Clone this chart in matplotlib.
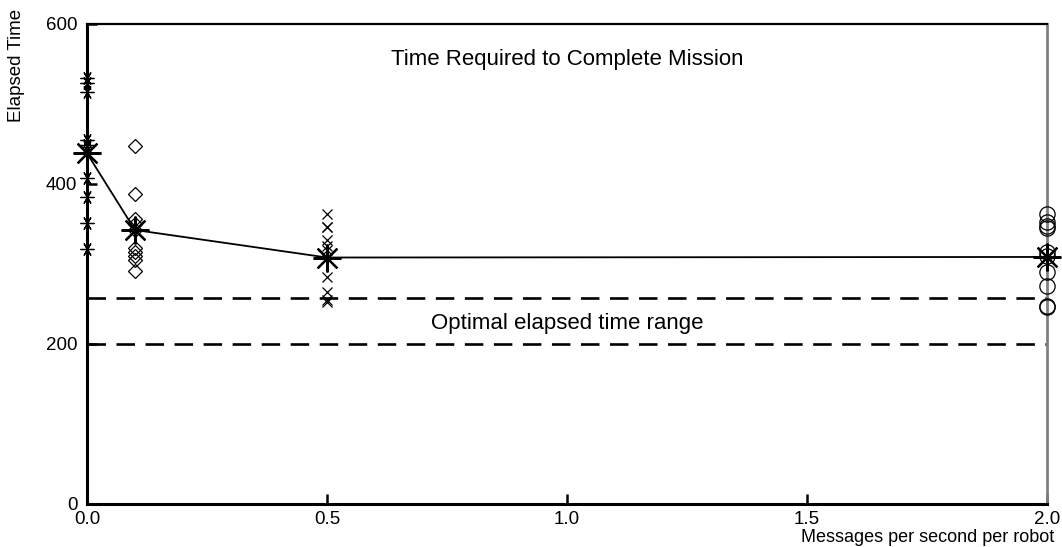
import numpy as np
import matplotlib
matplotlib.use("Agg")
import matplotlib.pyplot as plt

plt.rcParams["font.family"] = ["Liberation Sans", "DejaVu Sans"]

# Message rates tested (messages per second per robot)
rates = [0.0, 0.1, 0.5, 2.0]

# Elapsed times of individual runs at each message rate
times_r0 = [532, 526, 515, 455, 449, 446, 407, 384, 351, 319]
times_r01 = [447, 388, 356, 350, 343, 320, 315, 310, 305, 291]
times_r05 = [362, 346, 346, 330, 322, 318, 284, 265, 255, 253]
times_r2 = [362, 352, 348, 345, 315, 310, 290, 272, 248, 246]

runs = [times_r0, times_r01, times_r05, times_r2]
run_markers = [(6, 2, 90), "D", "x", "o"]
run_sizes = [10, 7, 7, 11]

# Bounds of the optimal elapsed time range
optimal_low = 200
optimal_high = 258

yticks = [0, 200, 400, 600]
xticks = [0.0, 0.5, 1.0, 1.5, 2.0]
xtick_labels = ["0.0", "0.5", "1.0", "1.5", "2.0"]

fig = plt.figure(figsize=(10.62, 5.47), dpi=100)
ax = fig.add_axes([87 / 1062, 43 / 547, 960 / 1062, 480 / 547])

# Individual runs
for x, vals, mk, ms in zip(rates, runs, run_markers, run_sizes):
    ax.plot([x] * len(vals), vals, linestyle="none", marker=mk, ms=ms,
            mfc="none", mec="black", mew=0.9, clip_on=False, zorder=3)

# Mean elapsed time per rate
means = [np.mean(v) for v in runs]
ax.plot(rates, means, color="black", lw=1.3, marker=(8, 2, 0), ms=20,
        mew=1.6, clip_on=False, zorder=4)

# Optimal range boundaries
for yv in (optimal_low, optimal_high):
    ax.plot([rates[0], rates[-1]], [yv, yv], color="black", lw=1.9,
            ls=(0, (7, 4)), zorder=2)

ax.set_xlim(0, 2.0)
ax.set_ylim(0, 600)
ax.set_xticks(xticks)
ax.set_xticklabels(xtick_labels)
ax.set_yticks(yticks)
ax.tick_params(direction="in", length=7, width=1.8, labelsize=13.5)
ax.tick_params(axis="x", pad=5)
ax.tick_params(axis="y", pad=7)

for side in ("left", "bottom"):
    ax.spines[side].set_linewidth(2.2)
    ax.spines[side].set_color("black")
ax.spines["top"].set_linewidth(1.6)
ax.spines["top"].set_color("black")
ax.spines["right"].set_linewidth(2.0)
ax.spines["right"].set_color("#808080")

ax.text(1.0, 555, "Time Required to Complete Mission", ha="center",
        va="center", fontsize=16)
ax.text(1.0, 225, "Optimal elapsed time range", ha="center",
        va="center", fontsize=16)

fig.text(17 / 1062, 1 - 9 / 547, "Elapsed Time", rotation=90,
         ha="center", va="top", fontsize=13.5)
fig.text(1054 / 1062, 1 - 538 / 547, "Messages per second per robot",
         ha="right", va="center", fontsize=13)

fig.savefig("out.png", dpi=100)
